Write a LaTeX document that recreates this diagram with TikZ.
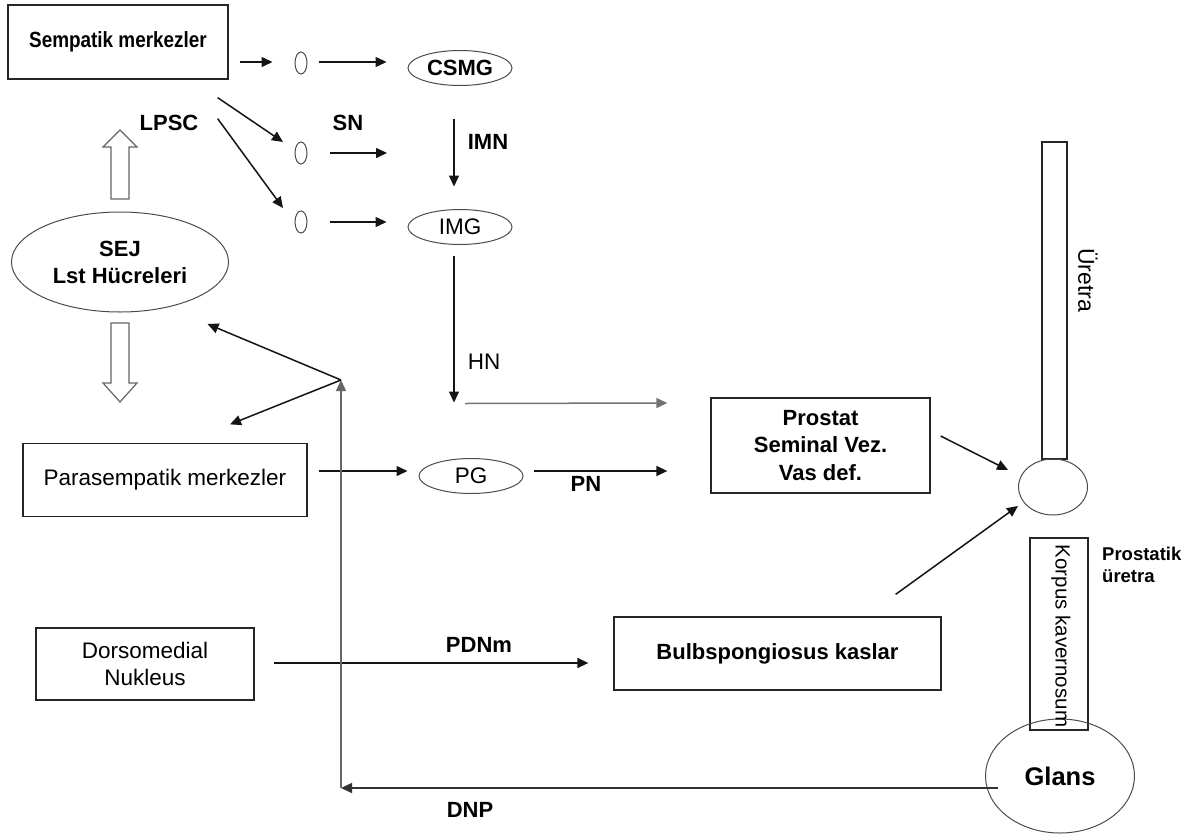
\documentclass[tikz,border=0pt]{standalone}
\usepackage{fontspec}
\setmainfont{Liberation Sans}
\usepackage{graphicx}
\usetikzlibrary{shapes.geometric,arrows.meta,calc}
\begin{document}
\begin{tikzpicture}[x=1pt,y=-1pt,
  arr/.style={line width=1.5pt, draw=black!92, -{Triangle[length=11pt,width=10pt]}},
  grayarr/.style={arr, draw=black!55},
  box/.style={draw=black!85, line width=1.3pt, rectangle, inner sep=0pt},
  ell/.style={draw=black!70, line width=1pt, ellipse, inner sep=0pt},
  bl/.style={font=\bfseries\fontsize{22}{27}\selectfont},
  rg/.style={font=\fontsize{22.5}{27}\selectfont},
  openarr/.style={draw=black!60, line width=1.2pt, fill=white}
]
\useasboundingbox (0,0) rectangle (1195,836);
\fill[white] (0,0) rectangle (1195,836);

% nodes
\node[box, minimum width=220pt, minimum height=74pt, bl] (symp) at (118,42) {\scalebox{0.86}[1]{Sempatik merkezler}};
\node[ell, minimum width=12pt, minimum height=22pt] (g1) at (301,63) {};
\node[ell, minimum width=12pt, minimum height=22pt] (g2) at (301,153) {};
\node[ell, minimum width=12pt, minimum height=22pt] (g3) at (301,222) {};
\node[ell, minimum width=104pt, minimum height=35pt, bl] (csmg) at (460,68) {CSMG};
\node[ell, minimum width=104pt, minimum height=35pt, rg] (img) at (460,227) {IMG};
\node[ell, minimum width=217pt, minimum height=100pt, bl, align=center] (sej) at (120,262) {SEJ\\Lst Hücreleri};
\node[box, minimum width=284pt, minimum height=73pt, rg] (para) at (165,480) {Parasempatik merkezler};
\node[ell, minimum width=104pt, minimum height=35pt, rg] (pg) at (471,476) {PG};
\node[box, minimum width=219pt, minimum height=95pt, align=center, font=\bfseries\fontsize{22}{27.5}\selectfont] (pros) at (820.5,445.5) {Prostat\\Seminal Vez.\\Vas def.};
\node[box, line width=1.1pt, minimum width=25pt, minimum height=317pt] (ure) at (1054.5,300.5) {};
\node[ell, minimum width=69pt, minimum height=56pt] (bulbus) at (1053,487) {};
\node[box, line width=1.1pt, minimum width=58pt, minimum height=192pt] (korp) at (1059,634) {};
\node[ell, minimum width=149pt, minimum height=114pt, font=\bfseries\fontsize{25.5}{30}\selectfont] (glans) at (1060,776) {Glans};
\node[box, minimum width=327pt, minimum height=73pt, bl] (bulb) at (777.5,653.5) {Bulbspongiosus kaslar};
\node[box, minimum width=218pt, minimum height=72pt, rg, align=center] (dors) at (145,664) {Dorsomedial\\Nukleus};

% labels
\node[bl] (lpsc) at (169,123) {LPSC};
\node[bl] (sn) at (348,123) {SN};
\node[bl] (imn) at (488,142) {IMN};
\node[rg] (hn) at (484,362) {HN};
\node[bl] (pn) at (586,484) {PN};
\node[bl] (pdnm) at (479,645) {PDNm};
\node[bl] (dnp) at (470,810) {DNP};
\node[font=\fontsize{23}{27}\selectfont, rotate=-90] (uret) at (1088,280) {Üretra};
\node[font=\fontsize{20.5}{24}\selectfont, rotate=-90] (korpt) at (1061,636) {Korpus kavernosum};
\node[font=\bfseries\fontsize{18.5}{22}\selectfont, align=left, anchor=west, inner sep=0pt] (prosu) at (1102,565) {Prostatik\\üretra};

% free ends
\coordinate (snend) at ($(g2.center)+(86,0)$);
\coordinate (hnend) at ($(img.south)+(-6,157.5)$);
\coordinate (corner) at (341,788);
\coordinate (j) at (341,380);

% connectors
\draw[arr] ($(symp.east)+(11,20)$) -- ($(g1.west)+(-22,-1)$);
\draw[arr] ($(g1.east)+(11,-1)$) -- ($(csmg.west)+(-21,-6)$);
\draw[arr] ($(symp.south east)+(-11,18)$) -- ($(g2.center)+(-18,-11)$);
\draw[arr] ($(symp.south east)+(-11,39)$) -- ($(g3.center)+(-18,-14)$);
\draw[arr] ($(g2.center)+(29,0)$) -- (snend);
\draw[arr] ($(g3.center)+(29,0)$) -- ($(img.west)+(-21,-5)$);
\draw[arr] ($(csmg.south)+(-6,32.5)$) -- ($(img.north)+(-6,-22.5)$);
\draw[arr] ($(img.south)+(-6,11)$) -- (hnend);
\draw[grayarr] ($(hnend)+(11,1)$) -- ($(pros.west)+(-43,-42.5)$);
\draw[arr] ($(para.east)+(11,-9)$) -- ($(pg.west)+(-11,-5)$);
\draw[arr] ($(pg.east)+(10,-5)$) -- ($(pros.west)+(-43,25.5)$);
\draw[arr] ($(pros.east)+(10,-9.5)$) -- ($(bulbus.west)+(-10,-17)$);
\draw[arr] ($(bulb.north east)+(-46,-22)$) -- ($(bulbus.west)+(0,19)$);
\draw[arr] ($(dors.east)+(19,-1)$) -- ($(bulb.west)+(-25,9.5)$);
\draw[arr, draw=black!80] ($(glans.center)+(-62,12)$) -- (corner);
\draw[arr, draw=black!60] (corner) -- (j);
\draw[arr] (j) -- ($(sej.east)+(-21.5,62)$);
\draw[arr] (j) -- ($(para.north)+(65,-18.5)$);

% open block arrows
\draw[openarr] (111,199) -- (111,147) -- (103,147) -- (120,130) -- (137,147) -- (129,147) -- (129,199) -- cycle;
\draw[openarr] (111,323) -- (129,323) -- (129,383) -- (137,383) -- (120,402) -- (103,383) -- (111,383) -- cycle;
\end{tikzpicture}
\end{document}
